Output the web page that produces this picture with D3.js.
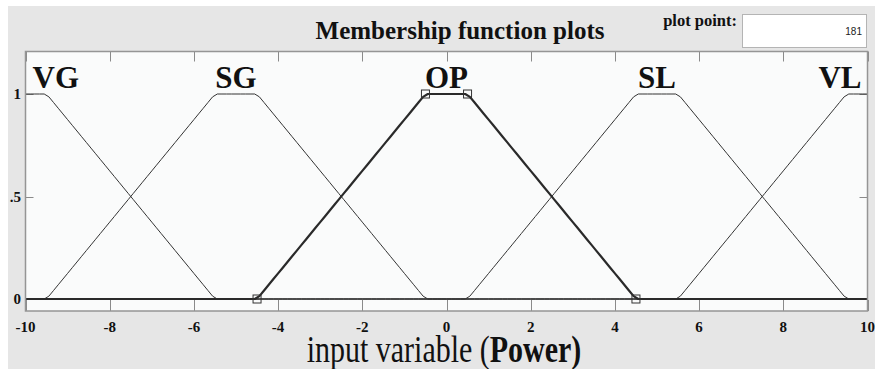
<!DOCTYPE html>
<html>
<head>
<meta charset="utf-8">
<script src="https://cdn.jsdelivr.net/npm/d3@7"></script>
<style>
  body { margin: 0; background: #ffffff; }
  svg { display: block; }
  .serif { font-family: "Liberation Serif", "Times New Roman", serif; }
</style>
</head>
<body>
<svg id="chart" width="875" height="369"></svg>
<script>
// Membership functions of the input variable "Power" (trapezoidal, [a b c d])
const mfNames = ["VG", "SG", "OP", "SL", "VL"];
const mfParams = [
  [-14.5, -10.5, -9.5, -5.5],
  [-9.5, -5.5, -4.5, -0.5],
  [-4.5, -0.5, 0.5, 4.5],
  [0.5, 4.5, 5.5, 9.5],
  [5.5, 9.5, 10.5, 14.5]
];
const selectedMf = "OP";
const inputRange = [-10, 10];
const plotPoints = 181;
const xTicks = [-10, -8, -6, -4, -2, 0, 2, 4, 6, 8, 10];
const yTicks = [0, 0.5, 1];
const yTickLabels = ["0", ".5", "1"];
const titleText = "Membership function plots";
const varLabel = "input variable";
const varName = "Power";

const svg = d3.select("#chart");
const W = 875, H = 369;

// window background
svg.append("rect").attr("x", 0).attr("y", 0).attr("width", W).attr("height", H).attr("fill", "#ffffff");
svg.append("rect").attr("x", 8).attr("y", 6).attr("width", W - 8).attr("height", H - 6).attr("fill", "#e6e6e6");

// axes box
const box = { left: 25.5, right: 867.5, top: 51.5, bottom: 311 };
const x = d3.scaleLinear().domain(inputRange).range([box.left, box.right]);
const y = d3.scaleLinear().domain([0, 1]).range([299, 94]);

svg.append("rect")
  .attr("x", box.left).attr("y", box.top)
  .attr("width", box.right - box.left).attr("height", box.bottom - box.top)
  .attr("fill", "#fafbfb");

// tick marks (inside the box, on all four sides)
const tickG = svg.append("g").attr("stroke", "#8a8a8a").attr("stroke-width", 1);
xTicks.forEach(t => {
  const px = Math.round(x(t)) + 0.5;
  tickG.append("line").attr("x1", px).attr("x2", px).attr("y1", box.bottom).attr("y2", box.bottom - 11);
  tickG.append("line").attr("x1", px).attr("x2", px).attr("y1", box.top).attr("y2", box.top + 10);
});
yTicks.forEach(t => {
  const py = Math.round(y(t)) + 0.5;
  tickG.append("line").attr("x1", box.left).attr("x2", box.left + 8).attr("y1", py).attr("y2", py);
  tickG.append("line").attr("x1", box.right).attr("x2", box.right - 8).attr("y1", py).attr("y2", py);
});

// sample each membership function on the plot points
const xs = d3.range(plotPoints).map(i => inputRange[0] + (inputRange[1] - inputRange[0]) * i / (plotPoints - 1));
function trapmf(v, p) {
  const [a, b, c, d] = p;
  const up = b === a ? (v >= a ? 1 : 0) : (v - a) / (b - a);
  const down = d === c ? (v <= d ? 1 : 0) : (d - v) / (d - c);
  return Math.max(0, Math.min(up, 1, down));
}
const line = d3.line().x(d => x(d[0])).y(d => y(d[1]));

const curves = svg.append("g").attr("fill", "none");
mfNames.forEach((name, i) => {
  if (name === selectedMf) return;
  curves.append("path")
    .datum(xs.map(v => [v, trapmf(v, mfParams[i])]))
    .attr("d", line)
    .attr("stroke", "#333333")
    .attr("stroke-width", 1);
});
const selIdx = mfNames.indexOf(selectedMf);
curves.append("path")
  .datum(xs.map(v => [v, trapmf(v, mfParams[selIdx])]))
  .attr("d", line)
  .attr("stroke", "#2a2a2a")
  .attr("stroke-width", 2.2)
  .attr("stroke-linejoin", "round");

// vertex handles of the selected function
const p = mfParams[selIdx];
const handles = [[p[0], 0], [p[1], 1], [p[2], 1], [p[3], 0]];
svg.append("g").selectAll("rect").data(handles).join("rect")
  .attr("x", d => x(d[0]) - 4).attr("y", d => y(d[1]) - 4)
  .attr("width", 8).attr("height", 8)
  .attr("fill", "none").attr("stroke", "#333").attr("stroke-width", 1);

// box outline on top
svg.append("rect")
  .attr("x", box.left).attr("y", box.top)
  .attr("width", box.right - box.left).attr("height", box.bottom - box.top)
  .attr("fill", "none").attr("stroke", "#959595").attr("stroke-width", 1.5);

// function names above each plateau, kept inside the box
const labelG = svg.append("g").attr("class", "serif")
  .attr("font-weight", "bold").attr("font-size", 31).attr("fill", "#111");
mfNames.forEach((name, i) => {
  const centre = x((mfParams[i][1] + mfParams[i][2]) / 2);
  const t = labelG.append("text").attr("y", y(1) - 6).attr("text-anchor", "middle").text(name);
  const w = t.node().getComputedTextLength();
  const cx = Math.max(box.left + 7 + w / 2, Math.min(box.right - 6 - w / 2, centre));
  t.attr("x", cx);
});

// tick labels
const tickLabelG = svg.append("g").attr("class", "serif")
  .attr("font-weight", "bold").attr("font-size", 15).attr("fill", "#111");
xTicks.forEach(t => {
  tickLabelG.append("text").attr("x", x(t)).attr("y", 332).attr("text-anchor", "middle").text(t);
});
yTicks.forEach((t, i) => {
  tickLabelG.append("text").attr("x", 21).attr("y", y(t)).attr("dy", "0.35em")
    .attr("text-anchor", "end").text(yTickLabels[i]);
});

// title
svg.append("text").attr("class", "serif")
  .attr("x", 460).attr("y", 39).attr("text-anchor", "middle")
  .attr("font-weight", "bold").attr("font-size", 25).attr("fill", "#111")
  .text(titleText);

// plot point field
svg.append("text").attr("class", "serif")
  .attr("x", 737).attr("y", 26).attr("text-anchor", "end")
  .attr("font-weight", "bold").attr("font-size", 16.5).attr("fill", "#111")
  .text("plot point:");
svg.append("rect").attr("x", 742.5).attr("y", 14.5).attr("width", 124).attr("height", 33)
  .attr("fill", "#ffffff").attr("stroke", "#b4b4b4").attr("stroke-width", 1);
svg.append("text")
  .attr("x", 862).attr("y", 35).attr("text-anchor", "end")
  .attr("font-family", "Arial, 'Liberation Sans', sans-serif").attr("font-size", 10).attr("fill", "#222")
  .text(plotPoints);

// variable label
const xl = svg.append("text").attr("class", "serif")
  .attr("font-size", 30).attr("fill", "#111")
  .attr("transform", "translate(444,362) scale(1,1.25)")
  .attr("text-anchor", "middle");
xl.append("tspan").text(varLabel + " (");
xl.append("tspan").attr("font-weight", "bold").text(varName + ")");
</script>
</body>
</html>
